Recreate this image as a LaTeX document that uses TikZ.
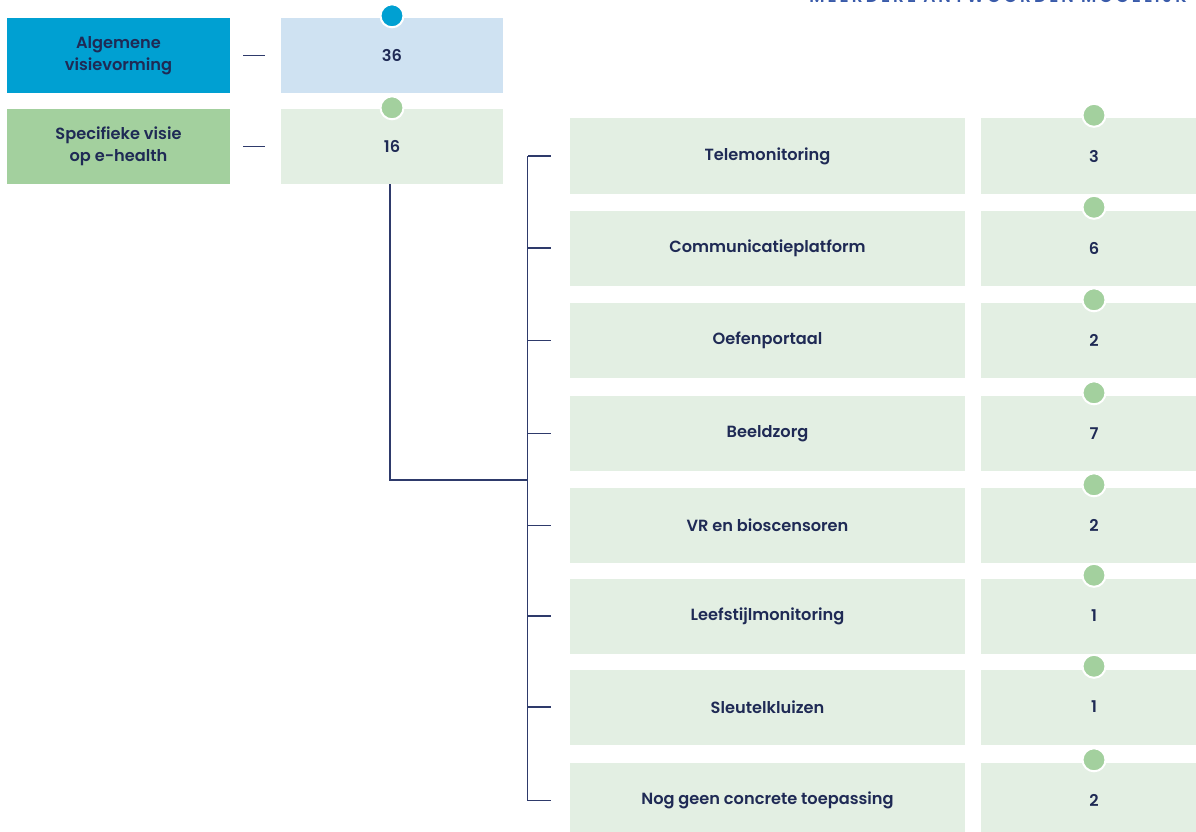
\documentclass[tikz,border=0pt]{standalone}
\usepackage{fontspec}
\setmainfont{Poppins}[UprightFont={* SemiBold}]
\definecolor{blueDark}{HTML}{00A0D2}
\definecolor{blueLight}{HTML}{CFE2F2}
\definecolor{greenDark}{HTML}{A3D09E}
\definecolor{greenLight}{HTML}{E3EFE3}
\definecolor{navy}{HTML}{1F2A55}
\definecolor{lineCol}{HTML}{2E3A6B}
\definecolor{topBlue}{HTML}{3A5BAA}
\tikzset{
  box/.style={rectangle, inner sep=0pt, minimum height=75pt, text=navy, font=\fontsize{16.2}{21.5}\selectfont, align=center},
  catbox/.style={box, minimum width=223pt},
  valbox/.style={box, minimum width=222pt},
  labbox/.style={box, minimum width=395pt, fill=greenLight},
  numbox/.style={box, minimum width=226pt, fill=greenLight},
  dot/.style={circle, draw=white, line width=2pt, minimum size=23pt, inner sep=0pt},
  conn/.style={draw=lineCol, line width=1.2pt},
}
\begin{document}
\begin{tikzpicture}[x=1pt,y=-1pt]
\useasboundingbox (0,0) rectangle (1196,832);
\clip (0,0) rectangle (1196,832);
\node[anchor=base, text=topBlue, font=\fontsize{17}{17}\selectfont\addfontfeature{LetterSpace=18}] (note) at (998,2.5) {MEERDERE ANTWOORDEN MOGELIJK};
% top section
\node[catbox, fill=blueDark] (alg) at (118.5,55.5) {Algemene\\visievorming};
\node[catbox, fill=greenDark] (spec) at (118.5,146.5) {Specifieke visie\\op e-health};
\node[valbox, fill=blueLight] (v36) at (392,55.5) {36};
\node[valbox, fill=greenLight] (v16) at (392,146.5) {16};
\node[dot, fill=blueDark] (d36) at ([yshift=2pt]v36.north) {};
\node[dot, fill=greenDark] (d16) at ([yshift=1pt]v16.north) {};
\draw[conn] ([xshift=13pt]alg.east) -- ([xshift=35pt]alg.east);
\draw[conn] ([xshift=13pt]spec.east) -- ([xshift=35pt]spec.east);
% rows
\foreach \i/\y/\lab/\n in {1/156/Telemonitoring/3, 2/248/Communicatieplatform/6, 3/340.5/Oefenportaal/2, 4/433.5/Beeldzorg/7, 5/525.5/VR en bioscensoren/2, 6/616/Leefstijlmonitoring/1, 7/707/Sleutelkluizen/1, 8/800.5/Nog geen concrete toepassing/2}{
  \node[labbox] (lab\i) at (767.5,\y) {\lab};
  \node[numbox] (num\i) at (1094,\y) {\n};
  \node[dot, fill=greenDark] (dot\i) at ([yshift=3pt]num\i.north) {};
  \draw[conn] ([xshift=-19pt]lab\i.west) -- ([xshift=-42pt]lab\i.west);
}
\coordinate (join) at (528,480);
\draw[conn] ([xshift=-42pt]lab1.west) -- ([xshift=-42pt]lab8.west);
\draw[conn] ([xshift=-2pt]v16.south) |- (join);
\end{tikzpicture}
\end{document}
